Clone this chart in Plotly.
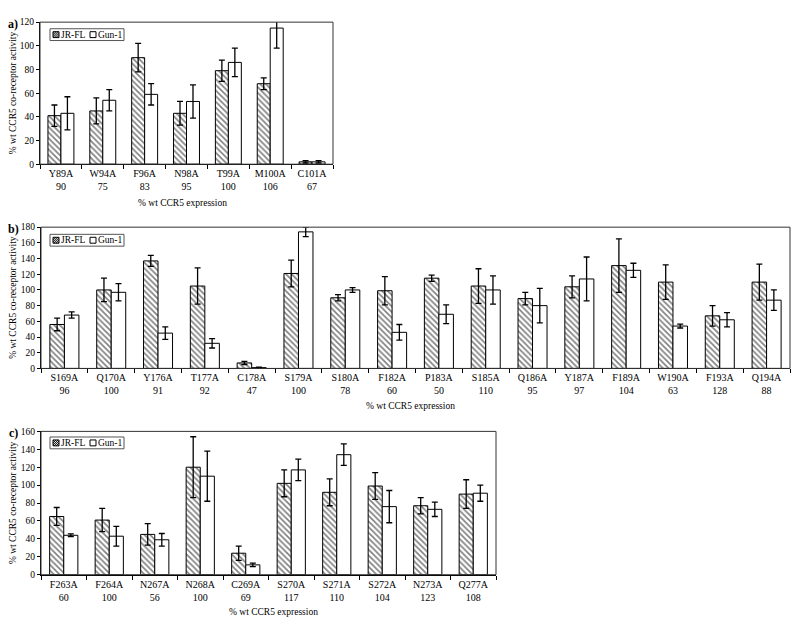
import plotly.graph_objects as go

# page body has an 8px margin: size the figure so that it fits the 800x631 window
OFF = 8
W, H = 800 - 2 * OFF, 631 - 2 * OFF

# ---------------- data ----------------
a_cats = ["Y89A", "W94A", "F96A", "N98A", "T99A", "M100A", "C101A"]
a_expr = [90, 75, 83, 95, 100, 106, 67]
a_jr = [41, 45, 90, 43, 79, 68, 2]
a_jr_err = [9, 11, 12, 10, 9, 5, 1]
a_gun = [43, 54, 59, 53, 86, 115, 2]
a_gun_err = [14, 9, 9, 14, 12, 17, 1]

b_cats = ["S169A", "Q170A", "Y176A", "T177A", "C178A", "S179A", "S180A", "F182A", "P183A",
          "S185A", "Q186A", "Y187A", "F189A", "W190A", "F193A", "Q194A"]
b_expr = [96, 100, 91, 92, 47, 100, 78, 60, 50, 110, 95, 97, 104, 63, 128, 88]
b_jr = [56, 100, 137, 105, 7, 121, 90, 99, 115, 105, 89, 104, 131, 110, 67, 110]
b_jr_err = [8, 15, 7, 23, 2, 17, 4, 18, 4, 22, 8, 14, 34, 22, 13, 23]
b_gun = [68, 97, 45, 32, 1, 174, 100, 46, 69, 100, 80, 114, 125, 54, 62, 87]
b_gun_err = [4, 11, 8, 6, 0.5, 6, 3, 10, 12, 18, 22, 28, 9, 2.5, 9, 13]

c_cats = ["F263A", "F264A", "N267A", "N268A", "C269A", "S270A", "S271A", "S272A", "N273A", "Q277A"]
c_expr = [60, 100, 56, 100, 69, 117, 110, 104, 123, 108]
c_jr = [65, 61, 45, 120, 24, 102, 92, 99, 77, 90]
c_jr_err = [10, 13, 12, 34, 8, 15, 15, 15, 9, 16]
c_gun = [44, 43, 39, 110, 11, 117, 134, 76, 73, 91]
c_gun_err = [1.5, 11, 7, 28, 2, 12, 12, 18, 8, 9]

series_names = ["JR-FL", "Gun-1"]
y_title = "% wt CCR5 co-receptor activity"
x_title = "% wt CCR5 expression"
panel_labels = ["a)", "b)", "c)"]
y_max = [120, 180, 160]

FONT = "Liberation Serif"


def px(x):
    return (x - OFF) / W


def py(y):
    return 1 - (y - OFF) / H


# panel pixel boxes in window coordinates: (left, right, top, bottom)
boxes = [(40, 333, 17.3, 161.7), (41, 790, 225.7, 369.3), (41, 496, 433.3, 579)]
panels = [
    (a_cats, a_expr, a_jr, a_jr_err, a_gun, a_gun_err),
    (b_cats, b_expr, b_jr, b_jr_err, b_gun, b_gun_err),
    (c_cats, c_expr, c_jr, c_jr_err, c_gun, c_gun_err),
]

fig = go.Figure()
shapes = []
annotations = []

for i, (cats, expr, jr, jre, gun, gune) in enumerate(panels):
    sfx = "" if i == 0 else str(i + 1)
    xa, ya = "x" + sfx, "y" + sfx
    fig.add_trace(go.Bar(
        x=cats, y=jr, name=series_names[0], xaxis=xa, yaxis=ya, showlegend=False,
        marker=dict(color="white", line=dict(color="black", width=1),
                    pattern=dict(shape="\\", fgcolor="black", bgcolor="white",
                                 size=4, solidity=0.4)),
        error_y=dict(type="data", array=jre, visible=True, color="black",
                     thickness=1.3, width=3),
    ))
    fig.add_trace(go.Bar(
        x=cats, y=gun, name=series_names[1], xaxis=xa, yaxis=ya, showlegend=False,
        marker=dict(color="white", line=dict(color="black", width=1)),
        error_y=dict(type="data", array=gune, visible=True, color="black",
                     thickness=1.3, width=3),
    ))
    l, r, t, b = boxes[i]
    fig.update_layout(**{
        "xaxis" + sfx: dict(
            domain=[px(l), px(r)], anchor=ya, type="category",
            tickvals=cats, ticktext=[f"{c}<br>{e}" for c, e in zip(cats, expr)],
            tickson="boundaries", ticks="outside", ticklen=4, tickcolor="black",
            showline=True, linecolor="black", linewidth=1, showgrid=False,
            tickfont=dict(family=FONT, size=10, color="black"),
        ),
        "yaxis" + sfx: dict(
            domain=[py(b), py(t)], anchor=xa, range=[0, y_max[i]], dtick=20,
            ticks="outside", ticklen=3, tickcolor="black",
            showline=True, linecolor="black", linewidth=1, showgrid=False,
            zeroline=False,
            tickfont=dict(family=FONT, size=9.5, color="black"),
        ),
    })
    # frame (top/right)
    shapes.append(dict(type="rect", xref="paper", yref="paper",
                       x0=px(l), x1=px(r), y0=py(b), y1=py(t),
                       line=dict(color="#333333", width=1), layer="above"))
    # y title
    annotations.append(dict(text=y_title, xref="paper", yref="paper",
                            x=px(13), y=py((t + b) / 2), textangle=-90,
                            showarrow=False, xanchor="center", yanchor="middle",
                            font=dict(family=FONT, size=9.5, color="black")))
    # panel label
    annotations.append(dict(text=f"<b>{panel_labels[i]}</b>", xref="paper", yref="paper",
                            x=px(13), y=py(t + 2), showarrow=False,
                            xanchor="center", yanchor="middle",
                            font=dict(family=FONT, size=12, color="black")))

# x titles
for xc, yc in [(182, 201), (410, 408), (273, 617)]:
    annotations.append(dict(text=x_title, xref="paper", yref="paper",
                            x=px(xc), y=py(yc), showarrow=False,
                            xanchor="center", yanchor="middle",
                            font=dict(family=FONT, size=9.5, color="black")))

# legends (one per panel)
for top in [24, 233, 439]:
    bx0, bx1, by0, by1 = 50, 124, top, top + 12
    shapes.append(dict(type="rect", xref="paper", yref="paper",
                       x0=px(bx0), x1=px(bx1), y0=py(by1), y1=py(by0),
                       line=dict(color="#555555", width=1), fillcolor="white"))
    cy = (by0 + by1) / 2
    # hatched swatch
    s0, s1 = 53, 59
    t0, t1 = cy - 3, cy + 3
    shapes.append(dict(type="rect", xref="paper", yref="paper",
                       x0=px(s0), x1=px(s1), y0=py(t1), y1=py(t0),
                       line=dict(color="black", width=1), fillcolor="white"))
    path = ""
    for d in [-4, -2, 0, 2, 4]:
        xa0, ya0 = s0 + max(d, 0), t0 + max(-d, 0)
        xa1, ya1 = s1 - max(-d, 0), t1 - max(d, 0)
        path += f"M{px(xa0)},{py(ya0)} L{px(xa1)},{py(ya1)} "
    shapes.append(dict(type="path", xref="paper", yref="paper", path=path,
                       line=dict(color="black", width=1)))
    annotations.append(dict(text=series_names[0], xref="paper", yref="paper",
                            x=px(59.5), y=py(cy), showarrow=False,
                            xanchor="left", yanchor="middle", borderpad=0,
                            font=dict(family=FONT, size=9.5, color="black")))
    # open swatch
    shapes.append(dict(type="rect", xref="paper", yref="paper",
                       x0=px(90), x1=px(96), y0=py(t1), y1=py(t0),
                       line=dict(color="black", width=1), fillcolor="white"))
    annotations.append(dict(text=series_names[1], xref="paper", yref="paper",
                            x=px(96.5), y=py(cy), showarrow=False,
                            xanchor="left", yanchor="middle", borderpad=0,
                            font=dict(family=FONT, size=9.5, color="black")))

fig.update_layout(
    width=W, height=H, autosize=False,
    margin=dict(l=0, r=0, t=0, b=0),
    paper_bgcolor="white", plot_bgcolor="white",
    barmode="group", bargap=0.38, bargroupgap=0,
    showlegend=False,
    shapes=shapes, annotations=annotations,
    font=dict(family=FONT, size=10, color="black"),
)

fig.write_html("out.html")
